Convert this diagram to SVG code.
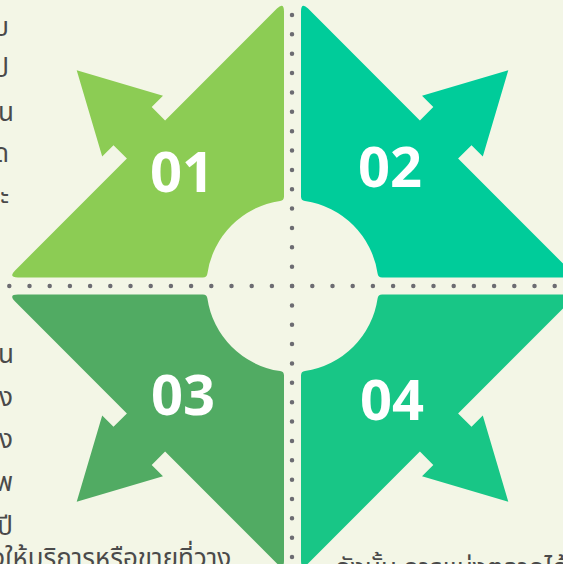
<svg xmlns="http://www.w3.org/2000/svg" xmlns:xlink="http://www.w3.org/1999/xlink" width="563" height="564" viewBox="0 0 563 564">
<style>
.num{font-family:"Open Sans","Liberation Sans",sans-serif;font-weight:700;font-size:56px;fill:#ffffff;text-anchor:middle}
.th{font-family:"Noto Sans Thai","Noto Sans","DejaVu Sans",sans-serif;font-size:26px;fill:#4a4a4a}
.dots{stroke:#6c6c72;stroke-width:4.5;stroke-linecap:round;fill:none}
</style>
<defs>
<path id="quad" d="M -8.5,-274.5 L -8.5,-89.6 Q -8.5,-85.58 -12.48,-85.09 A 86 86 0 0 0 -85.09,-12.48 Q -85.58,-8.5 -89.6,-8.5 L -274.5,-8.5 Q -284.5,-8.5 -277.43,-15.57 L -165.6,-127.4 L -179,-140.8 L -190.3,-129.5 L -215.8,-215.8 L -129.5,-190.3 L -140.8,-179 L -127.4,-165.6 L -15.57,-277.43 Q -8.5,-284.5 -8.5,-274.5 Z"/>
</defs>
<rect width="563" height="564" fill="#f3f6e6"/>
<g id="dividers">
<line class="dots" x1="9.3" y1="286" x2="555" y2="286" stroke-dasharray="0 20.2"/>
<line class="dots" x1="292" y1="15" x2="292" y2="557.5" stroke-dasharray="0 19.36"/>
</g>
<g id="node01">
<use xlink:href="#quad" transform="translate(292.5,286)" fill="#8ccc54"/>
<text class="num" x="182" y="192">01</text>
</g>
<g id="node02">
<use xlink:href="#quad" transform="translate(292.5,286) scale(-1,1)" fill="#00cc9a"/>
<text class="num" x="390" y="187">02</text>
</g>
<g id="node03">
<use xlink:href="#quad" transform="translate(292.5,286) scale(1,-1)" fill="#51ab63"/>
<text class="num" x="183" y="415">03</text>
</g>
<g id="node04">
<use xlink:href="#quad" transform="translate(292.5,286) scale(-1,-1)" fill="#18c686"/>
<text class="num" x="392" y="420">04</text>
</g>
<g id="texts">
<text class="th" x="9" y="36" text-anchor="end">บ</text>
<text class="th" x="9" y="77" text-anchor="end">ป</text>
<text class="th" x="14" y="121" text-anchor="end">น</text>
<text class="th" x="9" y="162" text-anchor="end">ด</text>
<text class="th" x="9" y="205" text-anchor="end">ะ</text>
<text class="th" x="14" y="363" text-anchor="end">น</text>
<text class="th" x="13" y="406" text-anchor="end">ง</text>
<text class="th" x="13" y="448" text-anchor="end">ง</text>
<text class="th" x="13" y="491" text-anchor="end">พ</text>
<text class="th" x="13" y="535" text-anchor="end">ปี</text>
<text class="th" x="-9" y="567">งให้บริการหรือขายที่วาง</text>
<text class="th" x="335" y="577">ดังนั้น การแบ่งตลาดได้</text>
</g>
</svg>
